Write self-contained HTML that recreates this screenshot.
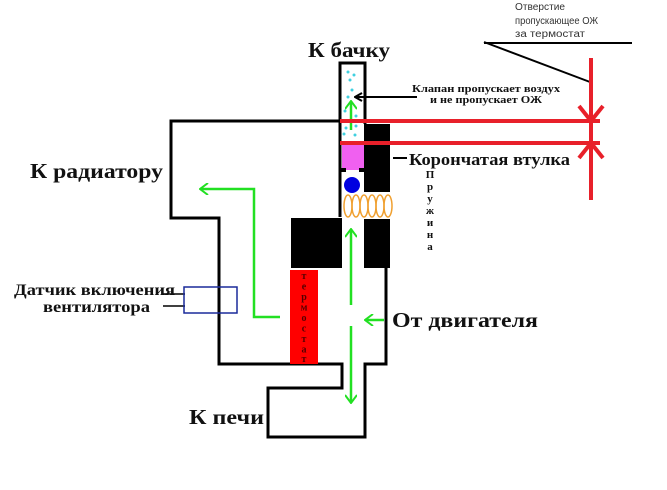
<!DOCTYPE html>
<html><head><meta charset="utf-8"><style>
body{margin:0;background:#fff}
svg{display:block}
text{font-family:"Liberation Serif","DejaVu Serif",serif;font-weight:bold;fill:#111}
text.s{font-family:"Liberation Sans","DejaVu Sans",sans-serif;font-weight:normal;fill:#333}
</style></head><body>
<svg width="667" height="490" viewBox="0 0 667 490" xmlns="http://www.w3.org/2000/svg">
<defs>
<marker id="ga" markerWidth="10" markerHeight="12" refX="9" refY="6" orient="auto" markerUnits="userSpaceOnUse"><path d="M1,0 L9,6 L1,12" fill="none" stroke="#22e022" stroke-width="2"/></marker>
<marker id="ka" markerWidth="10" markerHeight="10" refX="9" refY="5" orient="auto" markerUnits="userSpaceOnUse"><path d="M2,1 L9,5 L2,9" fill="none" stroke="#000" stroke-width="2"/></marker>
</defs>
<g fill="none" stroke="#000" stroke-width="3">
<polyline points="340,121 171,121 171,218 219,218 219,364 342,364 342,388 268,388 268,437 365,437 365,364 386,364 386,268"/>
<polyline points="340,217 340,63 365,63 365,124"/>
</g>
<rect x="364" y="124" width="26" height="68" fill="#000"/>
<rect x="364" y="219" width="26" height="49" fill="#000"/>
<rect x="291" y="218" width="51" height="50" fill="#000"/>
<rect x="290" y="270" width="28" height="94" fill="#f00"/>
<text font-size="10" style="fill:#500" text-anchor="middle">
<tspan x="304" y="279">т</tspan><tspan x="304" y="289.5">е</tspan><tspan x="304" y="300">р</tspan><tspan x="304" y="310.5">м</tspan><tspan x="304" y="321">о</tspan><tspan x="304" y="331.5">с</tspan><tspan x="304" y="342">т</tspan><tspan x="304" y="352.5">а</tspan><tspan x="304" y="362">т</tspan>
</text>
<rect x="342" y="145" width="22" height="25" fill="#f060f0"/>
<rect x="340" y="168" width="6" height="4" fill="#000"/><rect x="359" y="168" width="6" height="4" fill="#000"/>
<circle cx="352" cy="185" r="8" fill="#0000e0"/>
<g fill="none" stroke="#f0a030" stroke-width="1.5">
<ellipse cx="348" cy="206" rx="4" ry="11"/><ellipse cx="356" cy="206" rx="4" ry="11"/><ellipse cx="364" cy="206" rx="4" ry="11"/><ellipse cx="372" cy="206" rx="4" ry="11"/><ellipse cx="380" cy="206" rx="4" ry="11"/><ellipse cx="388" cy="206" rx="4" ry="11"/>
</g>
<g fill="#40d0e0">
<circle cx="348" cy="72" r="1.5"/><circle cx="354" cy="75" r="1.5"/><circle cx="350" cy="80" r="1.5"/><circle cx="352" cy="90" r="1.5"/><circle cx="348" cy="97" r="1.5"/><circle cx="345" cy="111" r="1.5"/><circle cx="356" cy="116" r="1.5"/><circle cx="346" cy="128" r="1.5"/><circle cx="356" cy="126" r="1.5"/><circle cx="344" cy="134" r="1.5"/><circle cx="355" cy="135" r="1.5"/>
</g>
<g stroke="#22e022" stroke-width="2.5" fill="none">
<line x1="351" y1="130" x2="351" y2="101" marker-end="url(#ga)"/>
<polyline points="280,317 254,317 254,189 200,189" marker-end="url(#ga)"/>
<line x1="351" y1="305" x2="351" y2="229" marker-end="url(#ga)"/>
<line x1="351" y1="326" x2="351" y2="403" marker-end="url(#ga)"/>
<line x1="384" y1="320" x2="365" y2="320" marker-end="url(#ga)"/>
</g>
<g stroke="#000" stroke-width="2" fill="none">
<line x1="417" y1="97" x2="355" y2="97" marker-end="url(#ka)"/>
<line x1="407" y1="158" x2="393" y2="158"/>
<line x1="484" y1="43" x2="632" y2="43"/>
<line x1="484" y1="42" x2="590" y2="82"/>
<line x1="591" y1="121" x2="591" y2="143"/>
<line x1="163" y1="294" x2="185" y2="294" stroke-width="1.5"/>
<line x1="163" y1="306" x2="185" y2="306" stroke-width="1.5"/>
</g>
<rect x="184" y="287" width="53" height="26" fill="none" stroke="#1a2a9a" stroke-width="1.5"/>
<g stroke="#e8202a" stroke-width="4" fill="none">
<line x1="340" y1="121" x2="600" y2="121"/>
<line x1="340" y1="143" x2="600" y2="143"/>
<line x1="591" y1="58" x2="591" y2="200"/>
<line x1="579" y1="106" x2="591" y2="121"/><line x1="603" y1="106" x2="591" y2="121"/>
<line x1="579" y1="158" x2="591" y2="143"/><line x1="603" y1="158" x2="591" y2="143"/>
</g>
<text x="308" y="57" font-size="21" textLength="82" lengthAdjust="spacingAndGlyphs">К бачку</text>
<text x="30" y="178" font-size="21" textLength="133" lengthAdjust="spacingAndGlyphs">К радиатору</text>
<text x="14" y="295" font-size="16" textLength="161" lengthAdjust="spacingAndGlyphs">Датчик включения</text>
<text x="43" y="312" font-size="16" textLength="107" lengthAdjust="spacingAndGlyphs">вентилятора</text>
<text x="392" y="327" font-size="21" textLength="146" lengthAdjust="spacingAndGlyphs">От двигателя</text>
<text x="189" y="424" font-size="21" textLength="75" lengthAdjust="spacingAndGlyphs">К печи</text>
<text x="409" y="165" font-size="17" textLength="161" lengthAdjust="spacingAndGlyphs">Корончатая втулка</text>
<text x="412" y="92" font-size="11" textLength="148" lengthAdjust="spacingAndGlyphs">Клапан пропускает воздух</text>
<text x="430" y="103" font-size="11" textLength="112" lengthAdjust="spacingAndGlyphs">и не пропускает ОЖ</text>
<text font-size="11" text-anchor="middle">
<tspan x="430" y="178">П</tspan><tspan x="430" y="190">р</tspan><tspan x="430" y="202">у</tspan><tspan x="430" y="214">ж</tspan><tspan x="430" y="226">и</tspan><tspan x="430" y="238">н</tspan><tspan x="430" y="250">а</tspan>
</text>
<text class="s" x="515" y="10" font-size="10" textLength="50" lengthAdjust="spacingAndGlyphs">Отверстие</text>
<text class="s" x="515" y="24" font-size="10" textLength="83" lengthAdjust="spacingAndGlyphs">пропускающее ОЖ</text>
<text class="s" x="515" y="37" font-size="10" textLength="70" lengthAdjust="spacingAndGlyphs">за термостат</text>
</svg>
</body></html>
